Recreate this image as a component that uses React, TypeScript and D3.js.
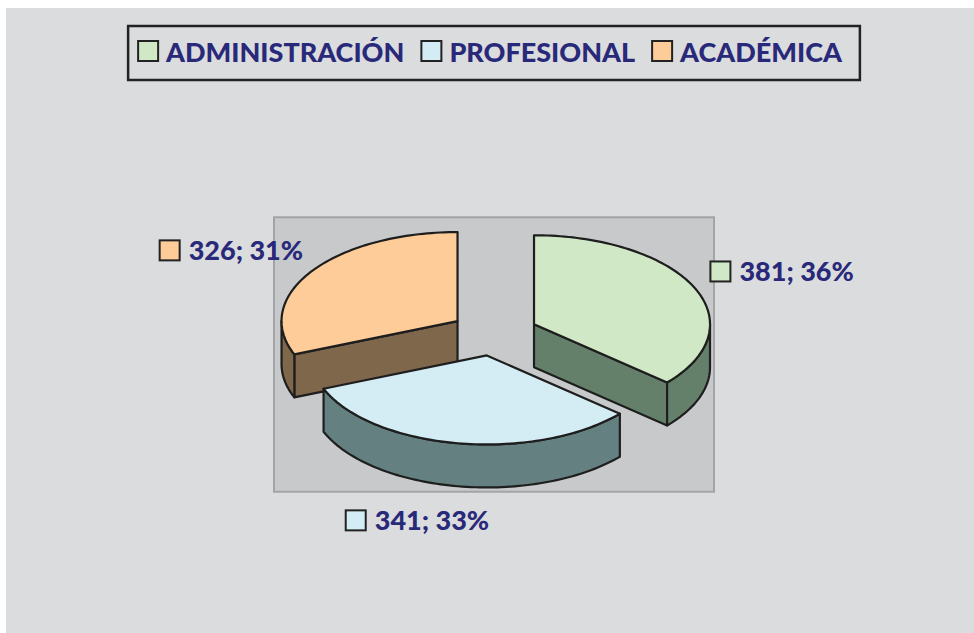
import * as d3 from "d3";
import React, { useEffect, useRef } from "react";

// chart data
const categories = ["ADMINISTRACIÓN", "PROFESIONAL", "ACADÉMICA"];
const values = [381, 341, 326];

// palette: top faces, side walls
const topColors = ["#d0e8c6", "#d4edf5", "#fecc99"];
const sideColors = ["#65806a", "#658081", "#7f674c"];
const textColor = "#29297a";
const strokeColor = "#1e1e1e";

const W = 974;
const H = 633;

const App = () => {
  const node = useRef<SVGSVGElement>(null);

  useEffect(() => {
    document.body.style.margin = "0";
    const svg = d3.select(node.current);
    svg.selectAll("*").remove();

    svg
      .append("rect")
      .attr("x", 6)
      .attr("y", 8)
      .attr("width", W - 6)
      .attr("height", H - 8)
      .attr("fill", "#dbdcde");

    const cx = 494;
    const cy = 333.5;
    const rx = 176;
    const ry = 89;
    const depth = 43;
    const explode = 0.25;

    // plot area = box around the exploded pie
    svg
      .append("rect")
      .attr("x", cx - rx * (1 + explode))
      .attr("y", cy - ry * (1 + explode) - 5)
      .attr("width", 2 * rx * (1 + explode))
      .attr("height", 2 * ry * (1 + explode) + depth + 9)
      .attr("fill", "#c8c9cb")
      .attr("stroke", "#a3a4a6")
      .attr("stroke-width", 2);

    const pie = d3
      .pie<number>()
      .sort(null)
      .startAngle(0)
      .endAngle(2 * Math.PI);
    const arcs = pie(values);
    const total = d3.sum(values);
    const pct = d3.format(".0%");

    const pt = (c: number[], a: number, r = 1, dz = 0) => [
      c[0] + rx * r * Math.sin(a),
      c[1] - ry * r * Math.cos(a) + dz,
    ];
    const arcPts = (c: number[], a0: number, a1: number, dz = 0) => {
      const n = Math.max(2, Math.ceil(Math.abs(a1 - a0) * 40));
      return d3.range(n + 1).map((k) => pt(c, a0 + ((a1 - a0) * k) / n, 1, dz));
    };
    const line = d3.line();
    const face = (pts: number[][]) => line(pts as [number, number][]) + "Z";

    const slices = arcs.map((d, i) => {
      const mid = (d.startAngle + d.endAngle) / 2;
      const c = [cx + rx * explode * Math.sin(mid), cy - ry * explode * Math.cos(mid)];
      return { d, i, mid, c };
    });

    // back slices first
    const pieG = svg.append("g");
    const ordered = slices.slice().sort((a, b) => Math.cos(b.mid) - Math.cos(a.mid));
    ordered.forEach(({ d, i, c }) => {
      const a0 = d.startAngle;
      const a1 = d.endAngle;
      const g = pieG.append("g");
      const style = (p: any, fill: string) =>
        p
          .attr("fill", fill)
          .attr("stroke", strokeColor)
          .attr("stroke-width", 2.2)
          .attr("stroke-linejoin", "round");
      const base = [c[0], c[1] + depth];
      if (Math.sin(a0) < -1e-9) {
        style(g.append("path").attr("d", face([c, pt(c, a0), pt(c, a0, 1, depth), base])), sideColors[i]);
      }
      if (Math.sin(a1) > 1e-9) {
        style(g.append("path").attr("d", face([c, pt(c, a1), pt(c, a1, 1, depth), base])), sideColors[i]);
      }
      const s = Math.max(a0, Math.PI / 2);
      const e = Math.min(a1, (3 * Math.PI) / 2);
      if (s < e) {
        const wall = arcPts(c, s, e).concat(arcPts(c, e, s, depth));
        style(g.append("path").attr("d", face(wall)), sideColors[i]);
      }
      style(g.append("path").attr("d", face([c].concat(arcPts(c, a0, a1)))), topColors[i]);
    });

    // data labels
    slices.forEach(({ d, i, mid, c }) => {
      const front = Math.cos(mid) < 0;
      const ax = c[0] + rx * (front ? 2.4 : 1.55) * Math.sin(mid);
      const ay = c[1] - ry * 1.4 * Math.cos(mid) + (front ? depth : 0);
      const g = svg.append("g");
      const t = g
        .append("text")
        .text(`${d.data}; ${pct(d.data / total)}`)
        .attr("font-family", "Lato, sans-serif")
        .attr("font-weight", 900)
        .attr("font-size", 27)
        .attr("fill", textColor);
      const tw = (t.node() as SVGTextElement).getComputedTextLength();
      const left = ax - (21 + 8 + tw) / 2;
      const baseline = ay + 9;
      t.attr("x", left + 29).attr("y", baseline);
      g.append("rect")
        .attr("x", left)
        .attr("y", baseline - 20)
        .attr("width", 20)
        .attr("height", 20)
        .attr("fill", topColors[i])
        .attr("stroke", "#222")
        .attr("stroke-width", 2);
    });

    // legend
    const leg = svg.append("g");
    const box = leg.append("rect");
    const baseline = 62;
    let x = 0;
    categories.forEach((name, i) => {
      const g = leg.append("g");
      g.append("rect")
        .attr("x", x)
        .attr("y", baseline - 21)
        .attr("width", 20)
        .attr("height", 20)
        .attr("fill", topColors[i])
        .attr("stroke", "#222")
        .attr("stroke-width", 2);
      const t = g
        .append("text")
        .attr("x", x + 28)
        .attr("y", baseline)
        .text(name)
        .attr("font-family", "Lato, sans-serif")
        .attr("font-weight", 900)
        .attr("font-size", 27)
        .attr("fill", textColor);
      x += 28 + (t.node() as SVGTextElement).getComputedTextLength() + 17;
    });
    const innerW = x - 17;
    const padL = 10;
    const padR = 18;
    const boxW = innerW + padL + padR;
    const boxX = cx - boxW / 2;
    leg.attr("transform", `translate(${boxX + padL},0)`);
    box
      .attr("x", -padL)
      .attr("y", 26)
      .attr("width", boxW)
      .attr("height", 54)
      .attr("fill", "none")
      .attr("stroke", "#222")
      .attr("stroke-width", 2.5);
  }, []);

  return <svg ref={node} width={W} height={H} style={{ display: "block" }} />;
};

export default App;
